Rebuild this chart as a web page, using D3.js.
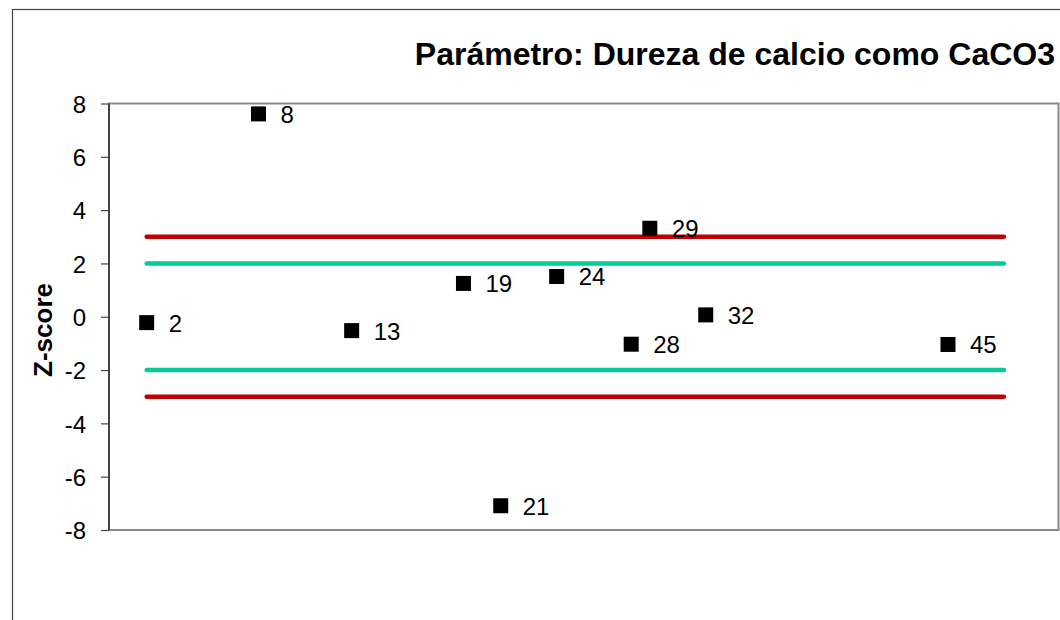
<!DOCTYPE html>
<html>
<head>
<meta charset="utf-8">
<script src="https://cdn.jsdelivr.net/npm/d3@7"></script>
<style>
  html, body { margin: 0; padding: 0; background: #fff; }
  svg { display: block; font-family: "Liberation Sans", Arial, sans-serif; }
</style>
</head>
<body>
<svg id="chart" width="1060" height="620"></svg>
<script>
// ---- data ----
const labs = [2, 8, 13, 19, 21, 24, 28, 29, 32, 45];
const zScores = [-0.22, 7.61, -0.52, 1.25, -7.09, 1.51, -1.03, 3.32, 0.07, -1.04];
const yTicks = [-8, -6, -4, -2, 0, 2, 4, 6, 8];
const limitValues = [3, 2, -2, -3];
const limitNames = ["upper action", "upper warning", "lower warning", "lower action"];
const limitStart = 2;
const limitEnd = 48;
const xDomain = [0, 51];
const yDomain = [-8, 8];
const titleText = "Parámetro: Dureza de calcio como CaCO3";
const yTitle = "Z-score";

// ---- layout ----
const svg = d3.select("#chart");
const plot = { left: 109, top: 103.5, right: 1058.5, bottom: 530 };

const x = d3.scaleLinear().domain(xDomain).range([109.4, 1059.8]);
const y = d3.scaleLinear().domain(yDomain).range([plot.bottom, plot.top]);

// outer chart border
svg.append("rect")
  .attr("x", 12.5).attr("y", 9.5)
  .attr("width", 1100).attr("height", 700)
  .attr("fill", "none").attr("stroke", "#444").attr("stroke-width", 1.2);

// plot area border
svg.append("rect")
  .attr("x", plot.left).attr("y", plot.top)
  .attr("width", plot.right - plot.left).attr("height", plot.bottom - plot.top)
  .attr("fill", "#fff").attr("stroke", "#888").attr("stroke-width", 2);

// y axis
const yAxis = d3.axisLeft(y).tickValues(yTicks).tickSize(8).tickPadding(15).tickFormat(d => String(d));
const ga = svg.append("g").attr("transform", `translate(${plot.left},0)`).call(yAxis);
ga.select(".domain").attr("stroke", "#444").attr("stroke-width", 2).attr("d", `M0,${plot.top}V${plot.bottom}`);
ga.selectAll(".tick line").attr("stroke", "#444").attr("stroke-width", 1.2);
ga.selectAll(".tick text")
  .attr("fill", "#000")
  .style("font-size", "24px")
  .style("font-family", "\"Liberation Sans\", Arial, sans-serif")
  .attr("dy", "0.36em");

// limit lines
const limitColors = { "upper action": "#C00000", "upper warning": "#00CC99", "lower warning": "#00CC99", "lower action": "#C00000" };
svg.append("g").selectAll("line")
  .data(limitValues.map((v, i) => ({ v, name: limitNames[i] })))
  .join("line")
  .attr("x1", x(limitStart)).attr("x2", x(limitEnd))
  .attr("y1", d => y(d.v)).attr("y2", d => y(d.v))
  .attr("stroke", d => limitColors[d.name])
  .attr("stroke-width", 4.5)
  .attr("stroke-linecap", "round");

// points
const pts = labs.map((lab, i) => ({ lab, z: zScores[i] }));
const size = 15;
const g = svg.append("g");
g.selectAll("rect.pt")
  .data(pts).join("rect").attr("class", "pt")
  .attr("x", d => x(d.lab) - size / 2)
  .attr("y", d => y(d.z) - size / 2)
  .attr("width", size).attr("height", size)
  .attr("fill", "#000");
g.selectAll("text.lbl")
  .data(pts).join("text").attr("class", "lbl")
  .attr("x", d => x(d.lab) + 22)
  .attr("y", d => y(d.z) + 9)
  .style("font-size", "24px")
  .attr("fill", "#000")
  .text(d => d.lab);

// title
svg.append("text")
  .attr("x", 1055).attr("y", 65)
  .attr("text-anchor", "end")
  .style("font-size", "32px").style("font-weight", "bold")
  .attr("fill", "#000")
  .text(titleText);

// y axis title
svg.append("text")
  .attr("transform", "translate(52,330) rotate(-90)")
  .attr("text-anchor", "middle")
  .style("font-size", "26px").style("font-weight", "bold")
  .attr("fill", "#000")
  .text(yTitle);
</script>
</body>
</html>
